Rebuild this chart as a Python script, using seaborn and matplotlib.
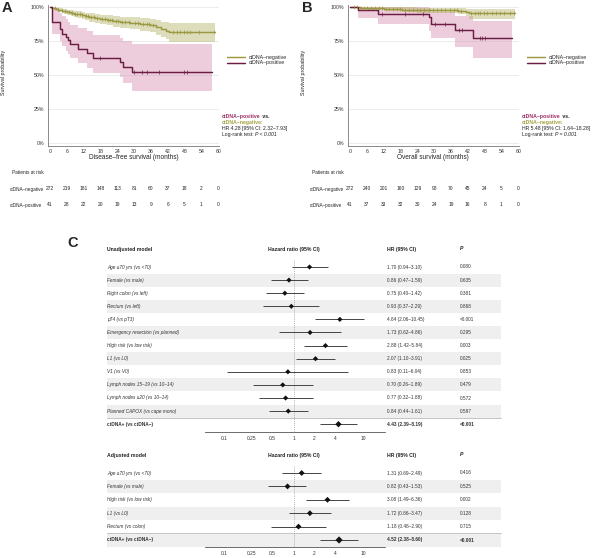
import numpy as np
import seaborn as sns
import matplotlib.pyplot as plt
from matplotlib.patches import Rectangle
from matplotlib.ticker import NullLocator
from matplotlib.transforms import blended_transform_factory

sns.set_theme(style="white")
plt.rcParams["font.family"] = ["Liberation Sans", "DejaVu Sans"]

# ---------------- data ----------------
month_ticks = [0, 6, 12, 18, 24, 30, 36, 42, 48, 54, 60]

# A: disease-free survival, ctDNA-negative
dfs_neg_t = [0, 0.8, 1.5, 2.3, 3.0, 4.2, 5.0, 6.1, 7.4, 8.6, 9.8, 11.3, 12.5, 14.0, 16.2, 18.0, 20.3,
             22.5, 25.0, 28.4, 32.0, 35.6, 37.8, 39.5, 41.3, 42.5, 59.0]
dfs_neg_s = [100, 99.3, 98.9, 98.2, 97.8, 97.1, 96.7, 96.0, 95.6, 94.9, 94.5, 93.8, 93.1, 92.4, 91.7, 91.0,
             90.3, 89.6, 88.9, 88.1, 87.3, 86.5, 85.0, 83.6, 82.6, 81.5, 81.5]
dfs_neg_hi = [100, 100, 100, 99.5, 99.2, 98.8, 98.5, 98.0, 97.7, 97.2, 96.9, 96.4, 95.9, 95.4, 94.9, 94.4,
              93.9, 93.4, 92.9, 92.4, 91.8, 91.2, 90.2, 89.3, 88.7, 88.5, 88.5]
dfs_neg_lo = [100, 98.3, 97.6, 96.7, 96.1, 95.2, 94.7, 93.8, 93.2, 92.4, 91.9, 91.0, 90.1, 89.2, 88.3, 87.4,
              86.5, 85.6, 84.7, 83.7, 82.7, 81.6, 79.6, 77.7, 76.2, 74.0, 74.0]
dfs_neg_cens = [1.8, 2.9, 4.1, 5.3, 6.6, 7.9, 8.8, 9.7, 10.6, 11.5, 12.8, 13.6, 14.5, 15.8, 16.9, 18.4,
                19.6, 20.5, 21.3, 22.1, 23.4, 24.2, 25.6, 26.8, 28.0, 30.2, 31.4, 33.1, 34.6, 35.3, 36.6,
                44.0, 45.2, 46.4, 47.6, 48.8, 50.0, 53.0, 58.5]

# A: disease-free survival, ctDNA-positive
dfs_pos_t = [0, 0.6, 3.6, 4.4, 5.6, 6.3, 7.1, 10.1, 13.1, 15.5, 25.0, 26.2, 29.2, 57.8]
dfs_pos_s = [100, 89.0, 84.1, 80.5, 78.0, 75.6, 72.7, 69.5, 66.3, 62.9, 59.8, 56.1, 52.4, 52.4]
dfs_pos_hi = [100, 98.5, 95.5, 93.0, 91.0, 89.0, 87.0, 84.5, 82.0, 79.5, 77.5, 75.0, 73.0, 73.0]
dfs_pos_lo = [100, 80.5, 75.0, 71.0, 68.0, 65.5, 62.5, 59.0, 55.5, 51.5, 48.5, 44.0, 38.0, 38.0]
dfs_pos_cens = [17.9, 29.8, 32.7, 34.6, 38.7, 47.9, 48.8]

# B: overall survival, ctDNA-negative
os_neg_t = [0, 1.0, 3.5, 6.0, 12.0, 18.5, 24.0, 31.0, 38.5, 41.5, 42.3, 59.0]
os_neg_s = [100, 99.6, 99.3, 98.9, 98.5, 98.1, 97.8, 97.4, 97.0, 96.0, 95.2, 95.2]
os_neg_hi = [100, 100, 100, 100, 99.9, 99.7, 99.5, 99.3, 99.1, 98.6, 98.2, 98.2]
os_neg_lo = [100, 98.9, 98.3, 97.6, 97.0, 96.4, 95.9, 95.3, 94.7, 93.1, 91.0, 91.0]
os_neg_cens = [1.5, 2.5, 3.8, 5.0, 6.2, 7.5, 8.8, 10.2, 11.5, 12.8, 14.0, 15.5, 16.8, 18.0, 19.5, 21.0,
               22.5, 23.8, 25.0, 26.5, 28.0, 29.5, 31.0, 32.5, 34.0, 35.5, 37.0, 38.2, 39.5, 43.0, 44.5,
               45.5, 46.5, 47.8, 49.0, 50.5, 52.0, 53.5, 55.0, 57.0, 58.5]

# B: overall survival, ctDNA-positive
os_pos_t = [0, 2.7, 10.1, 28.0, 29.0, 37.5, 44.0, 57.8]
os_pos_s = [100, 97.6, 95.1, 92.5, 87.6, 83.0, 77.5, 77.5]
os_pos_hi = [100, 100, 100, 99.5, 96.0, 93.0, 90.0, 90.0]
os_pos_lo = [100, 92.0, 87.5, 82.0, 77.0, 70.5, 62.5, 62.5]
os_pos_cens = [11.3, 19.6, 26.2, 30.4, 33.9, 38.8, 40.0, 46.4, 47.2, 48.2]

# patients at risk
risk_dfs_neg = [272, 219, 181, 148, 113, 81, 60, 37, 18, 2, 0]
risk_dfs_pos = [41, 28, 22, 20, 19, 13, 9, 6, 5, 1, 0]
risk_os_neg = [272, 240, 201, 160, 129, 98, 70, 45, 24, 5, 0]
risk_os_pos = [41, 37, 33, 32, 30, 24, 19, 16, 8, 1, 0]

# C: Cox models
unadj_labels = ["Age \u226570 yrs (vs <70)", "Female (vs male)", "Right colon (vs left)", "Rectum (vs left)",
                "pT4 (vs pT3)", "Emergency resection (vs planned)", "High risk (vs low risk)", "L1 (vs L0)",
                "V1 (vs V0)", "Lymph nodes 15\u201319 (vs 10\u201314)", "Lymph nodes \u226520 (vs 10\u201314)",
                "Planned CAPOX (vs cape mono)", "ctDNA+ (vs ctDNA\u2212)"]
unadj_hr = [1.70, 0.86, 0.75, 0.93, 4.64, 1.73, 2.88, 2.07, 0.83, 0.70, 0.77, 0.84, 4.43]
unadj_lo = [0.94, 0.47, 0.40, 0.37, 2.06, 0.62, 1.42, 1.10, 0.11, 0.26, 0.32, 0.44, 2.39]
unadj_hi = [3.10, 1.59, 1.42, 2.29, 10.45, 4.86, 5.84, 3.91, 6.04, 1.89, 1.88, 1.61, 8.19]
unadj_p = ["0.080", "0.635", "0.381", "0.868", "<0.001", "0.295", "0.003", "0.025", "0.853", "0.479",
           "0.572", "0.597", "<0.001"]

adj_labels = ["Age \u226570 yrs (vs <70)", "Female (vs male)", "High risk (vs low risk)", "L1 (vs L0)",
              "Rectum (vs colon)", "ctDNA+ (vs ctDNA\u2212)"]
adj_hr = [1.31, 0.82, 3.08, 1.72, 1.18, 4.52]
adj_lo = [0.69, 0.43, 1.49, 0.86, 0.48, 2.38]
adj_hi = [2.49, 1.53, 6.36, 3.47, 2.90, 8.60]
adj_p = ["0.416", "0.525", "0.002", "0.128", "0.715", "<0.001"]

hr_ticks = [0.1, 0.25, 0.5, 1, 2, 4, 10]
hr_tick_labels = ["0.1", "0.25", "0.5", "1", "2", "4", "10"]

# ---------------- styling ----------------
NEG_LINE, NEG_BAND, NEG_TXT = "#9a9840", "#b5b36a", "#a3a13e"
POS_LINE, POS_BAND, POS_TXT = "#6b1d44", "#d88fb0", "#9b2a62"
W, H = 600, 558

fig = plt.figure(figsize=(6, 5.58), dpi=100)
ax_bg = fig.add_axes([0, 0, 1, 1])
ax_bg.set_xlim(0, W)
ax_bg.set_ylim(H, 0)
ax_bg.axis("off")


def px_axes(left, top, right, bottom):
    return fig.add_axes([left / W, 1 - bottom / H, (right - left) / W, (bottom - top) / H])


def km_panel(x_off, curves, xlabel, risk_rows, letter, hr_line, p_txt):
    ax = px_axes(47.7 + x_off, 5.3, 219 + x_off, 145.7)
    for t, s, lo, hi, cens, lc, bc, lab in curves[::-1]:
        ax.fill_between(t, lo, hi, step="post", color=bc, alpha=0.45, lw=0)
    for t, s, lo, hi, cens, lc, bc, lab in curves:
        sns.lineplot(x=t, y=s, drawstyle="steps-post", color=lc, lw=1.05, ax=ax, label=lab)
        idx = np.searchsorted(t, cens, side="right") - 1
        sns.scatterplot(x=cens, y=np.asarray(s)[idx], marker="|", s=9, color=lc,
                        linewidth=0.5, ax=ax, legend=False, zorder=4)
    ax.set_xlim(-0.82, 60.25)
    ax.set_ylim(-1.76, 101.2)
    ax.set_xticks(month_ticks)
    ax.set_yticks([0, 25, 50, 75, 100])
    ax.set_yticklabels(["0%", "25%", "50%", "75%", "100%"])
    ax.tick_params(labelsize=3.8, length=1.5, width=0.5, pad=1.2, colors="#333")
    ax.grid(axis="y", color="#e4e4e4", lw=0.5)
    ax.set_axisbelow(True)
    for side in ["top", "right"]:
        ax.spines[side].set_visible(False)
    for side in ["left", "bottom"]:
        ax.spines[side].set_color("#777")
        ax.spines[side].set_linewidth(0.6)
    ax.set_xlabel(xlabel, fontsize=4.7, color="#222")
    ax.xaxis.set_label_coords(0.5, -0.062)
    ax.set_ylabel("Survival probability", fontsize=3.8, color="#222")
    ax.yaxis.set_label_coords(-0.245, 0.525)
    ax.legend(loc="center left", bbox_to_anchor=(1.045, 0.61), frameon=False, fontsize=3.8,
              handlelength=3.4, labelspacing=0.12, handletextpad=0.7, borderaxespad=0, borderpad=0)

    # patients at risk table
    tr = blended_transform_factory(ax.transData, ax_bg.transData)
    ax_bg.text(12 + x_off, 173, "Patients at risk", fontsize=3.4, va="center", color="#222")
    for yy, (name, vals) in zip([189, 205], risk_rows):
        ax_bg.text(10 + x_off, yy, name, fontsize=3.3, va="center", color="#222")
        for m, v in zip(month_ticks, vals):
            ax_bg.text(m, yy, str(v), transform=tr, fontsize=3.5, ha="center", va="center", color="#222")

    ax_bg.text(7 + x_off, 8, letter, fontsize=10.5, fontweight="bold", ha="center", va="center")

    # HR annotation
    fs = 3.7
    x0, y0 = 222 + x_off, 116.7
    t1 = ax_bg.text(x0, y0, "ctDNA\u2013positive", color=POS_TXT, fontweight="bold", fontsize=fs, va="center")
    ax_bg.annotate(" vs.", xy=(1, 0), xycoords=t1, va="bottom", ha="left", fontweight="bold",
                   fontsize=fs, color="#222")
    ax_bg.text(x0, y0 + 5.8, "ctDNA\u2013negative:", color=NEG_TXT, fontweight="bold", fontsize=fs, va="center")
    ax_bg.text(x0, y0 + 11.6, hr_line, fontsize=fs, va="center", color="#222")
    t4 = ax_bg.text(x0, y0 + 17.4, "Log-rank test: ", fontsize=fs, va="center", color="#222")
    ax_bg.annotate(p_txt, xy=(1, 0), xycoords=t4, va="bottom", ha="left", style="italic",
                   fontsize=fs, color="#222")
    return ax


km_panel(0,
         [(dfs_neg_t, dfs_neg_s, dfs_neg_lo, dfs_neg_hi, dfs_neg_cens, NEG_LINE, NEG_BAND, "ctDNA\u2013negative"),
          (dfs_pos_t, dfs_pos_s, dfs_pos_lo, dfs_pos_hi, dfs_pos_cens, POS_LINE, POS_BAND, "ctDNA\u2013positive")],
         "Disease\u2013free survival (months)",
         [("ctDNA\u2013negative", risk_dfs_neg), ("ctDNA\u2013positive", risk_dfs_pos)],
         "A", "HR 4.28 [95% CI: 2.32\u20137.93]", "P < 0.001")

km_panel(300,
         [(os_neg_t, os_neg_s, os_neg_lo, os_neg_hi, os_neg_cens, NEG_LINE, NEG_BAND, "ctDNA\u2013negative"),
          (os_pos_t, os_pos_s, os_pos_lo, os_pos_hi, os_pos_cens, POS_LINE, POS_BAND, "ctDNA\u2013positive")],
         "Overall survival (months)",
         [("ctDNA\u2013negative", risk_os_neg), ("ctDNA\u2013positive", risk_os_pos)],
         "B", "HR 5.48 [95% CI: 1.64\u201318.28]", "P = 0.001")

ax_bg.text(73, 243, "C", fontsize=10.5, fontweight="bold", ha="center", va="center")


def forest_block(header, y_head, y0, step, y_axis, labels, hr, lo, hi, pvals, msize):
    n = len(labels)
    ys = np.array([y0 + step * i for i in range(n)])
    for i, y in enumerate(ys):
        if i % 2 == 1:
            ax_bg.add_patch(Rectangle((107, y - step / 2), 394, step, color="#efefef", lw=0, zorder=0))
    ax_bg.plot([107, 501], [ys[-1] - step / 2] * 2, color="#c4c4c4", lw=0.7, zorder=1)

    hfs = 3.7
    ax_bg.text(107, y_head, header, fontsize=hfs, fontweight="bold", va="center", color="#222")
    ax_bg.text(294, y_head, "Hazard ratio (95% CI)", fontsize=hfs, fontweight="bold", ha="center",
               va="center", color="#222")
    ax_bg.text(387, y_head, "HR (95% CI)", fontsize=hfs, fontweight="bold", va="center", color="#222")
    ax_bg.text(460, y_head, "P", fontsize=hfs, fontweight="bold", style="italic", va="center", color="#222")

    fs = 3.4
    for i, y in enumerate(ys):
        last = i == n - 1
        ax_bg.text(107, y, labels[i], fontsize=fs, va="center", color="#333",
                   style="normal" if last else "italic", fontweight="bold" if last else "normal")
        ax_bg.text(387, y, f"{hr[i]:.2f} ({lo[i]:.2f}\u2013{hi[i]:.2f})", fontsize=fs, va="center",
                   color="#333", fontweight="bold" if last else "normal")
        ax_bg.text(460, y, pvals[i], fontsize=fs, va="center", color="#333",
                   fontweight="bold" if last else "normal")

    top = y0 - step / 2
    fa = px_axes(205, top, 385, y_axis)
    fa.patch.set_alpha(0)
    fa.set_xscale("log")
    fa.set_xlim(0.0533, 20.7)
    fa.set_ylim(y_axis, top)
    fa.vlines(1, top, y_axis, color="#9a9a9a", lw=0.5, linestyles=(0, (1.5, 1.5)))
    fa.hlines(ys, lo, hi, color="#444", lw=0.7)
    sizes = [msize] * (n - 1) + [msize * 1.5]
    sns.scatterplot(x=hr, y=ys, marker="D", size=sizes, sizes=(msize, msize * 1.5), color="#111",
                    linewidth=0, ax=fa, legend=False, zorder=3)
    fa.set_xticks(hr_ticks)
    fa.set_xticklabels(hr_tick_labels)
    fa.xaxis.set_minor_locator(NullLocator())
    fa.set_yticks([])
    fa.set_xlabel("")
    fa.set_ylabel("")
    fa.tick_params(axis="x", labelsize=3.5, length=0, pad=3, colors="#333")
    for side in ["top", "right", "left"]:
        fa.spines[side].set_visible(False)
    fa.spines["bottom"].set_color("#555")
    fa.spines["bottom"].set_linewidth(0.6)


forest_block("Unadjusted model", 249, 267, 13.1, 432, unadj_labels, unadj_hr, unadj_lo, unadj_hi, unadj_p, 7)
forest_block("Adjusted model", 455, 473, 13.4, 547, adj_labels, adj_hr, adj_lo, adj_hi, adj_p, 9)

fig.savefig("out.png", dpi=100)
